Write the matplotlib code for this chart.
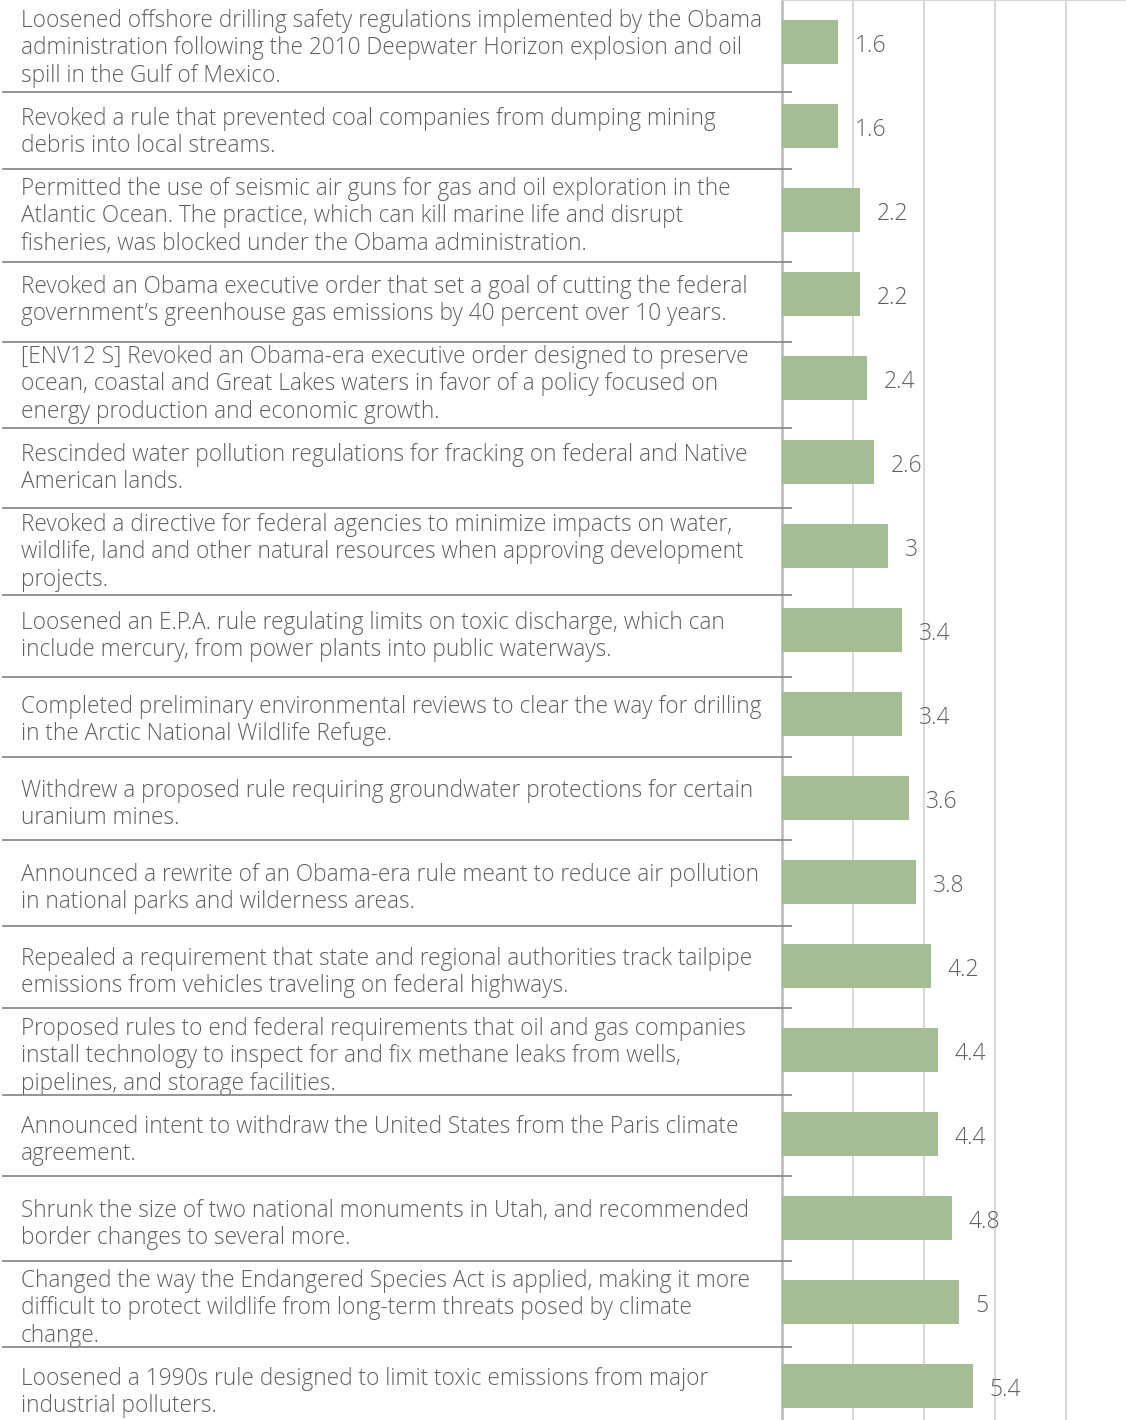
import matplotlib
matplotlib.use("Agg")
import matplotlib.pyplot as plt
from matplotlib.lines import Line2D

labels = [
    "Loosened offshore drilling safety regulations implemented by the Obama\nadministration following the 2010 Deepwater Horizon explosion and oil\nspill in the Gulf of Mexico.",
    "Revoked a rule that prevented coal companies from dumping mining\ndebris into local streams.",
    "Permitted the use of seismic air guns for gas and oil exploration in the\nAtlantic Ocean. The practice, which can kill marine life and disrupt\nfisheries, was blocked under the Obama administration.",
    "Revoked an Obama executive order that set a goal of cutting the federal\ngovernment\u2019s greenhouse gas emissions by 40 percent over 10 years.",
    "[ENV12 S] Revoked an Obama-era executive order designed to preserve\nocean, coastal and Great Lakes waters in favor of a policy focused on\nenergy production and economic growth.",
    "Rescinded water pollution regulations for fracking on federal and Native\nAmerican lands.",
    "Revoked a directive for federal agencies to minimize impacts on water,\nwildlife, land and other natural resources when approving development\nprojects.",
    "Loosened an E.P.A. rule regulating limits on toxic discharge, which can\ninclude mercury, from power plants into public waterways.",
    "Completed preliminary environmental reviews to clear the way for drilling\nin the Arctic National Wildlife Refuge.",
    "Withdrew a proposed rule requiring groundwater protections for certain\nuranium mines.",
    "Announced a rewrite of an Obama-era rule meant to reduce air pollution\nin national parks and wilderness areas.",
    "Repealed a requirement that state and regional authorities track tailpipe\nemissions from vehicles traveling on federal highways.",
    "Proposed rules to end federal requirements that oil and gas companies\ninstall technology to inspect for and fix methane leaks from wells,\npipelines, and storage facilities.",
    "Announced intent to withdraw the United States from the Paris climate\nagreement.",
    "Shrunk the size of two national monuments in Utah, and recommended\nborder changes to several more.",
    "Changed the way the Endangered Species Act is applied, making it more\ndifficult to protect wildlife from long-term threats posed by climate\nchange.",
    "Loosened a 1990s rule designed to limit toxic emissions from major\nindustrial polluters.",
]
values = [1.6, 1.6, 2.2, 2.2, 2.4, 2.6, 3, 3.4, 3.4, 3.6, 3.8, 4.2, 4.4, 4.4, 4.8, 5, 5.4]
xticks = [2, 4, 6, 8]

# layout (pixels) of the row separator rules
sep_px = [92, 169, 262, 342, 428, 508, 595, 677, 757, 840, 926, 1008, 1095, 1176, 1261, 1347]

W, H = 1126, 1420
FONT = ["Open Sans", "DejaVu Sans"]
TXT = "#5f5f5f"
BAR = "#a4bd94"

fig = plt.figure(figsize=(W / 100, H / 100), dpi=100)
ax_left = 781.5 / W
ax = fig.add_axes([ax_left, 0, 1 - ax_left, 1])
ppu = 35.5
ax.set_xlim(0, (W - 781.5) / ppu)
ax.set_ylim((H - 42) / 84, -0.5)

ypos = list(range(len(values)))
ax.barh(ypos, values, height=0.524, color=BAR, zorder=3)

for y, v in zip(ypos, values):
    ax.annotate(f"{v:g}", (v, y), xytext=(12, -3), textcoords="offset points",
                va="center", ha="left", fontsize=16.5, color=TXT,
                family=FONT, fontweight="light", zorder=4)

ax.set_xticks(xticks)
ax.grid(axis="x", color="#d9d9d9", linewidth=1.5, zorder=0)
ax.tick_params(left=False, bottom=False, labelleft=False, labelbottom=False)
for s in ["right", "bottom"]:
    ax.spines[s].set_visible(False)
ax.spines["left"].set_color("#bfbfbf")
ax.spines["left"].set_linewidth(2)
ax.spines["top"].set_color("#d9d9d9")
ax.spines["top"].set_linewidth(1.5)

for y, lab in zip(ypos, labels):
    ax.annotate(lab, (0, y), xycoords=("figure fraction", "data"),
                xytext=(21 * 0.72, -6.5 * 0.72), textcoords="offset points",
                ha="left", va="center", fontsize=16.25, color=TXT,
                family=FONT, fontweight="light", linespacing=1.21,
                annotation_clip=False)

for py in sep_px:
    yf = 1 - py / H
    fig.add_artist(Line2D([3 / W, 791 / W], [yf, yf], color="#8c8c8c",
                          linewidth=1.3, transform=fig.transFigure))

fig.savefig("out.png", dpi=100)
